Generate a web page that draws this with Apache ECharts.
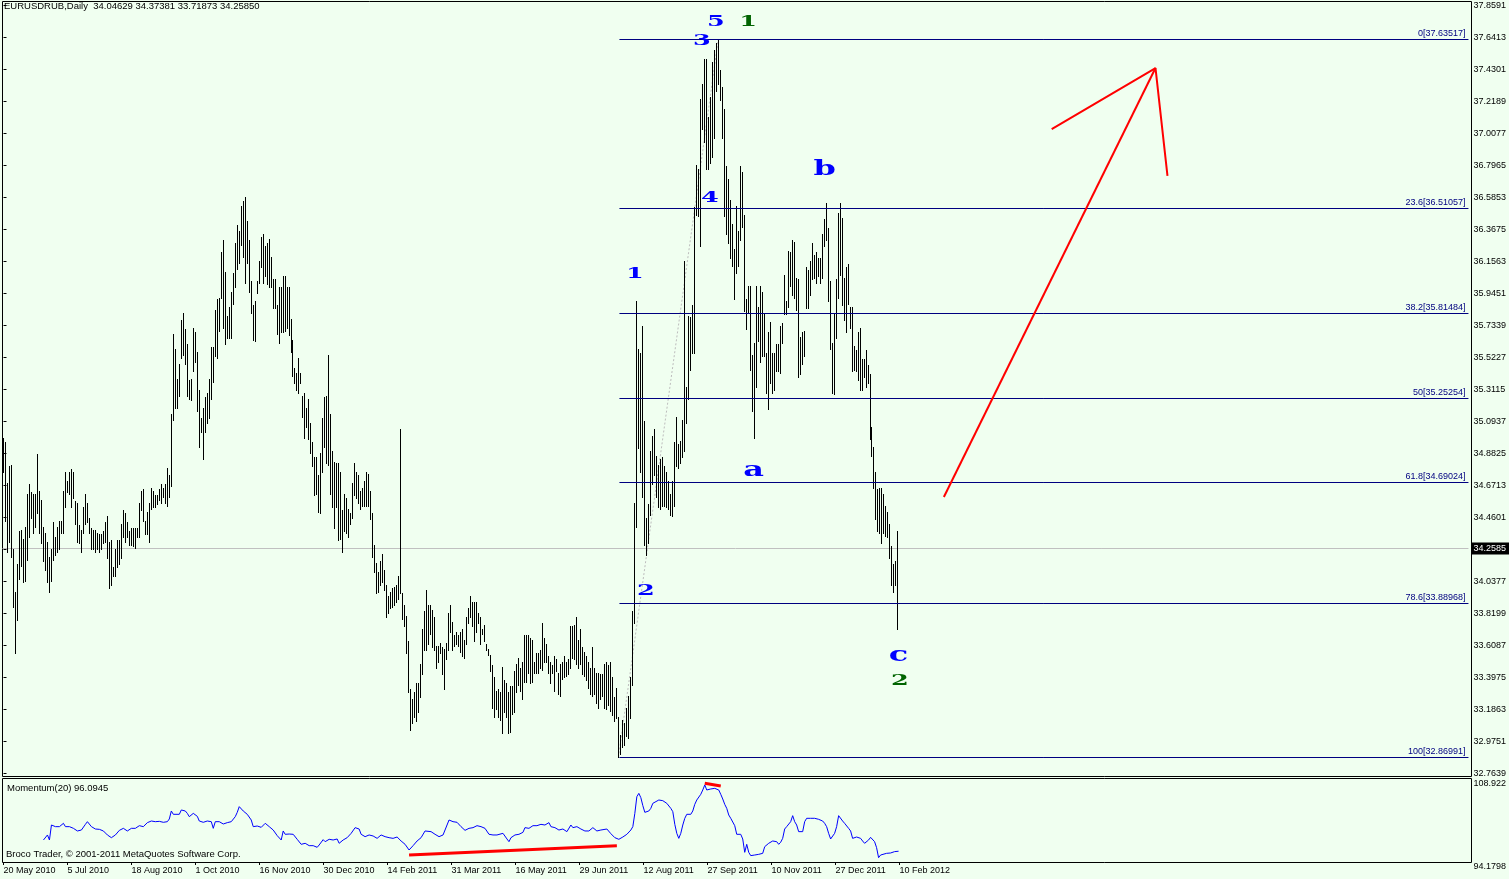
<!DOCTYPE html>
<html><head><meta charset="utf-8">
<script src="https://cdn.jsdelivr.net/npm/echarts@6/dist/echarts.min.js"></script>
<style>html,body{margin:0;padding:0;background:#f0fff0;overflow:hidden}#c{width:1509px;height:879px}</style>
</head><body><div id="c"></div>
<script>
// ---------------- data ----------------
const chartTitle = 'EURUSDRUB,Daily  34.04629 34.37381 33.71873 34.25850';
const momTitle = 'Momentum(20) 96.0945';
const copyright = 'Broco Trader, \u00a9 2001-2011 MetaQuotes Software Corp.';
const xTickLabels = ['20 May 2010','5 Jul 2010','18 Aug 2010','1 Oct 2010','16 Nov 2010','30 Dec 2010','14 Feb 2011','31 Mar 2011','16 May 2011','29 Jun 2011','12 Aug 2011','27 Sep 2011','10 Nov 2011','27 Dec 2011','10 Feb 2012'];
const priceTickLabels = ['32.7639','32.9751','33.1863','33.3975','33.6087','33.8199','34.0377','34.2489','34.4601','34.6713','34.8825','35.0937','35.3115','35.5227','35.7339','35.9451','36.1563','36.3675','36.5853','36.7965','37.0077','37.2189','37.4301','37.6413','37.8591'];
const momTickLabels = ['94.1798','108.922'];

const highs = [
34.99,34.96,34.69,34.80,34.81,34.25,33.97,34.15,34.37,34.38,
34.32,34.40,34.62,34.68,34.63,34.62,34.62,34.88,34.64,34.58,
34.40,34.36,34.30,34.20,34.25,34.43,34.33,34.40,34.44,34.44,
34.64,34.76,34.70,34.76,34.78,34.76,34.57,34.56,34.41,34.38,
34.53,34.62,34.56,34.46,34.39,34.38,34.38,34.36,34.35,34.35,
34.37,34.43,34.47,34.30,34.31,34.13,34.25,34.31,34.31,34.42,
34.51,34.49,34.43,34.37,34.39,34.39,34.39,34.39,34.56,34.64,
34.65,34.44,34.50,34.56,34.66,34.64,34.61,34.61,34.65,34.68,
34.66,34.68,34.79,34.74,35.15,35.68,35.58,35.38,35.48,35.77,
35.82,35.71,35.61,35.37,35.38,35.72,35.69,35.56,35.31,35.12,
35.19,35.26,35.29,35.38,35.59,35.59,35.84,35.91,35.92,36.22,
36.30,36.09,35.80,35.86,35.96,36.08,36.28,36.40,36.36,36.53,
36.56,36.59,36.43,36.30,36.03,35.87,35.90,36.03,36.16,36.32,
36.34,36.26,36.28,36.31,36.19,36.04,36.04,35.87,35.99,35.99,
36.06,36.06,35.99,35.99,35.78,35.64,35.45,35.42,35.52,35.42,
35.27,35.29,35.19,35.25,35.09,34.96,34.86,34.86,34.74,34.89,
35.12,35.26,35.27,35.54,35.15,34.90,34.83,34.82,34.82,34.76,
34.51,34.62,34.59,34.52,34.49,34.69,34.82,34.76,34.74,34.64,
34.66,34.70,34.76,34.75,34.64,34.49,34.28,34.16,34.10,34.17,
34.22,34.11,34.01,33.94,33.97,33.99,34.00,34.01,34.07,35.05,
33.96,33.88,33.81,33.64,33.32,33.26,33.30,33.36,33.36,33.49,
33.72,33.84,33.98,33.88,33.88,33.85,33.80,33.61,33.61,33.63,
33.60,33.59,33.63,33.83,33.88,33.77,33.68,33.70,33.68,33.70,
33.72,33.65,33.80,33.86,33.94,33.90,33.90,33.90,33.83,33.80,
33.72,33.75,33.62,33.59,33.55,33.48,33.40,33.31,33.32,33.30,
33.47,33.38,33.36,33.30,33.34,33.34,33.44,33.49,33.53,33.46,
33.50,33.68,33.68,33.68,33.66,33.65,33.50,33.56,33.56,33.58,
33.76,33.66,33.62,33.54,33.50,33.48,33.54,33.52,33.43,33.49,
33.50,33.54,33.50,33.52,33.74,33.74,33.75,33.80,33.65,33.72,
33.60,33.57,33.54,33.50,33.46,33.60,33.46,33.43,33.43,33.42,
33.42,33.49,33.50,33.48,33.50,33.40,33.27,33.33,33.14,33.02,
33.12,33.10,33.20,33.28,33.40,33.84,34.56,35.90,35.58,35.55,
35.73,35.10,34.46,34.55,34.90,35.00,35.05,34.87,34.81,34.85,
34.86,34.80,34.76,34.70,34.62,34.70,34.96,35.13,34.95,34.97,
35.11,36.16,35.33,35.80,35.79,35.87,36.52,36.80,36.77,37.24,
37.34,37.50,37.50,37.12,37.25,37.48,37.56,37.61,37.63517,37.43,
37.32,37.17,36.79,36.71,36.57,36.41,36.24,36.53,36.36,36.79,
36.75,36.47,35.91,36.00,36.00,35.54,35.62,36.00,35.86,36.00,
35.96,35.82,35.55,35.69,35.76,35.55,35.55,35.61,35.61,35.73,
35.75,36.07,35.90,36.23,36.22,36.30,36.29,36.05,36.04,35.66,
35.69,35.70,36.12,36.10,36.16,36.28,36.20,36.22,36.18,36.18,
36.34,36.44,36.55,36.38,36.03,35.62,35.82,36.04,36.48,36.55,
36.45,36.05,36.12,36.14,35.86,35.86,35.60,35.57,35.69,35.72,
35.51,35.51,35.57,35.47,35.41,35.06,34.93,34.76,34.65,34.66,
34.66,34.62,34.54,34.50,34.42,34.27,34.15,34.17,34.37381];

const lows = [
34.76,34.44,34.23,34.30,34.20,33.87,33.56,33.78,34.05,34.14,
34.03,34.04,34.18,34.33,34.46,34.36,34.40,34.49,34.36,34.29,
34.17,34.11,34.03,33.97,34.04,34.18,34.21,34.23,34.25,34.36,
34.36,34.53,34.63,34.62,34.53,34.59,34.42,34.30,34.29,34.23,
34.36,34.42,34.43,34.36,34.25,34.25,34.23,34.25,34.23,34.25,
34.29,34.30,34.19,33.99,34.01,34.07,34.07,34.13,34.15,34.19,
34.33,34.30,34.33,34.28,34.28,34.27,34.26,34.33,34.33,34.51,
34.44,34.35,34.35,34.30,34.52,34.53,34.53,34.55,34.58,34.56,
34.60,34.56,34.54,34.60,34.67,35.11,35.19,35.19,35.27,35.52,
35.54,35.48,35.27,35.25,35.24,35.43,35.49,35.17,34.93,35.03,
34.85,35.03,35.09,35.12,35.25,35.36,35.53,35.52,35.70,35.92,
35.72,35.61,35.65,35.65,35.65,35.88,35.99,36.11,36.15,36.27,
36.19,36.02,36.15,35.96,35.82,35.64,35.63,35.95,36.02,36.12,
36.02,36.06,36.01,35.99,35.99,35.85,35.85,35.68,35.62,35.69,
35.69,35.70,35.72,35.67,35.56,35.40,35.35,35.31,35.29,35.35,
35.13,34.99,35.06,34.98,34.89,34.80,34.61,34.62,34.50,34.49,
34.76,34.93,34.82,34.81,34.62,34.53,34.39,34.53,34.31,34.32,
34.23,34.37,34.36,34.33,34.42,34.46,34.61,34.59,34.56,34.52,
34.54,34.54,34.54,34.54,34.45,34.20,34.10,33.96,33.97,34.01,
34.03,33.98,33.80,33.83,33.86,33.87,33.88,33.90,33.92,33.96,
33.79,33.74,33.56,33.30,33.05,33.10,33.14,33.11,33.17,33.27,
33.42,33.58,33.58,33.62,33.69,33.60,33.58,33.46,33.50,33.56,
33.42,33.32,33.52,33.58,33.70,33.58,33.61,33.62,33.61,33.57,
33.54,33.53,33.62,33.76,33.80,33.74,33.64,33.70,33.76,33.62,
33.69,33.64,33.58,33.55,33.44,33.20,33.14,33.19,33.14,33.12,
33.03,33.17,33.14,33.03,33.04,33.16,33.17,33.30,33.35,33.31,
33.26,33.37,33.37,33.43,33.36,33.37,33.43,33.43,33.43,33.46,
33.45,33.50,33.50,33.43,33.36,33.43,33.31,33.44,33.29,33.28,
33.39,33.40,33.41,33.42,33.46,33.53,33.52,33.49,33.46,33.49,
33.42,33.41,33.38,33.33,33.29,33.28,33.29,33.23,33.20,33.26,
33.28,33.20,33.19,33.22,33.18,33.15,33.11,33.13,32.86991,32.89,
32.94,32.95,33.01,33.00,33.13,33.35,33.76,34.40,34.92,34.76,
34.60,34.28,34.21,34.29,34.48,34.68,34.74,34.60,34.53,34.52,
34.54,34.54,34.53,34.52,34.48,34.47,34.54,34.80,34.79,34.82,
34.86,34.90,35.09,35.25,35.44,35.55,35.55,36.47,36.46,36.26,
37.04,36.95,36.77,36.77,36.81,36.85,36.98,37.29,37.34,37.23,
36.98,36.46,36.34,36.28,36.18,36.13,35.91,36.08,36.13,36.30,
36.39,35.83,35.71,35.82,35.44,35.17,34.99,35.33,35.63,35.49,
35.53,35.53,35.29,35.18,35.35,35.29,35.31,35.43,35.43,35.42,
35.62,35.81,35.81,35.86,36.00,35.94,35.92,35.84,35.39,35.41,
35.48,35.53,35.85,35.85,35.94,36.04,36.05,36.02,36.06,36.02,
36.05,36.26,36.30,35.90,35.58,35.29,35.28,35.65,35.92,36.07,
35.87,35.77,35.69,35.88,35.72,35.43,35.44,35.43,35.37,35.31,
35.31,35.39,35.33,35.35,34.98,34.87,34.66,34.45,34.37,34.36,
34.29,34.36,34.34,34.33,34.19,34.01,33.97,34.01,33.71873];

const lastClose = 34.25850;

// Momentum(20): [bar index, value]
const momentum = [[20,98.09],[22,98.98],[23,98.09],[24,100.75],[26,100.46],[28,100.46],[30,101.05],[31,100.46],[33,100.46],[35,100.16],[37,99.69],[39,99.86],[41,100.87],[42,101.34],[44,100.46],[46,100.04],[48,99.98],[50,99.69],[52,98.98],[54,98.50],[56,98.98],[58,99.80],[60,100.16],[62,99.69],[64,100.16],[66,100.16],[68,100.63],[70,100.46],[72,101.17],[74,101.46],[76,101.34],[78,101.40],[80,101.23],[82,101.34],[83,101.82],[84,103.24],[85,102.65],[86,103.00],[88,102.65],[89,103.42],[91,103.24],[92,102.82],[93,102.23],[95,102.82],[97,102.29],[98,101.46],[100,101.23],[102,101.46],[104,101.34],[105,100.16],[106,101.34],[108,101.34],[110,100.93],[112,101.17],[114,101.34],[116,102.23],[117,103.00],[118,104.01],[119,103.71],[120,103.24],[122,102.65],[124,101.64],[125,100.46],[127,100.57],[129,100.34],[131,101.05],[132,101.34],[133,100.46],[135,99.86],[137,98.86],[139,98.09],[140,99.69],[141,99.10],[143,99.15],[145,99.10],[147,98.21],[149,97.32],[151,97.50],[153,97.08],[155,97.08],[157,96.79],[158,97.20],[160,98.15],[161,97.79],[163,98.21],[165,98.09],[167,98.27],[168,97.50],[170,98.09],[172,98.50],[174,99.27],[176,100.28],[178,100.04],[179,99.10],[181,98.68],[183,98.98],[185,98.80],[186,98.98],[187,98.38],[189,98.98],[191,98.68],[193,98.50],[195,98.38],[197,98.62],[199,97.91],[201,97.32],[203,96.31],[204,96.49],[205,97.08],[207,97.91],[209,98.50],[211,99.69],[212,99.45],[214,99.57],[216,99.10],[218,98.68],[220,98.98],[222,100.75],[223,101.64],[225,101.34],[227,101.23],[229,100.46],[231,99.80],[233,100.16],[235,100.28],[237,100.63],[239,100.46],[241,100.16],[243,99.10],[245,98.98],[247,98.98],[248,98.98],[250,99.27],[252,98.27],[253,97.79],[254,98.50],[256,98.98],[258,99.10],[260,99.45],[261,100.28],[263,100.16],[265,100.63],[267,100.63],[269,100.87],[271,100.75],[273,101.17],[274,100.46],[276,100.28],[278,99.86],[280,100.04],[282,99.57],[284,100.75],[285,100.28],[287,100.46],[289,100.04],[291,99.69],[293,99.69],[295,100.28],[297,99.69],[299,99.86],[300,99.69],[302,100.04],[304,99.21],[306,98.50],[308,98.21],[310,98.62],[312,99.10],[314,99.86],[315,100.46],[316,102.82],[317,105.78],[318,106.37],[319,105.61],[320,104.19],[321,103.00],[322,103.00],[323,103.24],[324,103.71],[325,104.60],[326,104.90],[328,105.19],[330,105.07],[332,104.60],[334,103.71],[335,103.12],[336,100.87],[337,99.27],[338,98.38],[339,99.27],[340,100.75],[341,101.94],[342,102.65],[343,102.82],[344,102.65],[345,103.24],[346,104.42],[347,105.19],[348,105.49],[349,106.20],[350,106.97],[351,107.86],[352,106.97],[353,106.67],[354,107.15],[355,106.97],[356,107.26],[357,107.15],[358,106.97],[359,106.20],[360,105.37],[361,104.42],[362,103.71],[363,102.53],[364,101.94],[365,101.64],[366,100.63],[367,99.10],[368,99.21],[369,99.10],[370,98.27],[371,95.90],[372,97.32],[373,95.90],[374,95.31],[375,95.13],[376,95.42],[378,95.54],[380,95.72],[381,96.90],[382,96.61],[383,97.50],[384,97.20],[385,97.91],[386,98.09],[387,97.79],[388,97.32],[389,97.69],[390,98.38],[391,100.04],[392,100.46],[393,100.75],[394,101.34],[395,102.41],[396,101.34],[397,100.75],[398,99.57],[399,99.27],[400,99.57],[401,101.34],[402,101.94],[404,101.94],[406,101.94],[408,101.76],[410,101.46],[411,101.05],[412,100.46],[413,99.27],[414,98.27],[415,98.38],[416,99.27],[417,100.46],[418,102.41],[419,102.23],[420,101.46],[421,101.05],[422,100.75],[423,100.16],[424,99.69],[425,98.38],[426,98.38],[427,98.62],[428,98.68],[429,98.38],[430,97.91],[431,97.50],[432,97.50],[433,98.09],[434,98.56],[435,98.50],[436,97.79],[437,96.73],[438,94.95],[439,95.42],[440,95.66],[442,95.72],[444,95.78],[446,96.02],[447,96.13],[448,96.0945]];

// Fibonacci retracement
const fibRatios = ['0','23.6','38.2','50','61.8','78.6','100'];
const fibLevels = [37.63517,36.51057,35.81484,35.25254,34.69024,33.88968,32.86991];
const fibStartBar = 308;
const fibTrend = [[308,32.86991],[358,37.63517]];

// Elliott wave labels
const waveTexts  = ['5','3','1','4','1','2','a','b','c','2'];
const waveBars   = [356.75,349.75,373,353.75,316.25,321.75,375.75,411.25,448.25,449];
const wavePrices = [37.745,37.622,37.745,36.58,36.077,33.97,34.77,36.766,33.546,33.373];
const waveDegree = ['minor','minor','major','minor','minor','minor','minor','minor','minor','major'];

// hand-drawn red lines
const arrowShaft = [[471,34.597],[577,37.443]];
const arrowHead  = [[525,37.038],[577,37.443],[583,36.727]];
const momLineLow  = [[203,95.42],[307,97.07]];
const momLineHigh = [[351,108.16],[359,107.68]];

// ---------------- chart ----------------
if (highs.length !== lows.length) throw new Error('length mismatch ' + highs.length + ' ' + lows.length);
const xMax = 733.75;
const FONT = 'Liberation Sans';
const crisp = v => Math.round(v - 0.5) + 0.5;
const barData = highs.map((h, i) => [i, h, lows[i]]);
const waveData = waveTexts.map((t, k) => [waveBars[k], wavePrices[k], k]);
const fibData = fibLevels.map((lvl, k) => [fibStartBar, lvl, k]);

const chart = echarts.init(document.getElementById('c'), null, { renderer: 'canvas' });
const txt = { fontSize: 9.5, fontWeight: 'normal', fontFamily: FONT, color: '#000' };
chart.setOption({
  animation: false,
  backgroundColor: '#f0fff0',
  title: [
    { text: chartTitle, left: 4, top: 1.5, padding: 0, textStyle: txt },
    { text: momTitle, left: 7, top: 783, padding: 0, textStyle: txt },
    { text: copyright, left: 6, top: 849, padding: 0, textStyle: txt }
  ],
  grid: [
    { left: 3.5, top: 5.3, width: 1467.5, height: 768 },
    { left: 3.5, top: 779, width: 1467.5, height: 83 },
    { left: 3.5, top: 779, width: 896, height: 83 },
    { left: 2.5, top: 1.5, width: 1469, height: 775, show: true, borderColor: '#000', borderWidth: 1, backgroundColor: 'transparent' },
    { left: 2.5, top: 778.5, width: 1469, height: 84, show: true, borderColor: '#000', borderWidth: 1, backgroundColor: 'transparent' }
  ],
  xAxis: [
    { gridIndex: 0, type: 'value', min: 0, max: xMax, show: false },
    { gridIndex: 1, type: 'value', min: 0, max: xMax, show: false },
    { gridIndex: 2, type: 'value', min: 0, max: 448, interval: 32, position: 'bottom',
      axisLine: { show: false }, splitLine: { show: false },
      axisTick: { show: true, length: 3, lineStyle: { color: '#000' } },
      axisLabel: { formatter: (v, i) => xTickLabels[i] || '', align: 'left', margin: 4,
                   color: '#000', fontSize: 9, fontFamily: FONT } },
    { gridIndex: 3, type: 'value', show: false },
    { gridIndex: 4, type: 'value', show: false }
  ],
  yAxis: [
    { gridIndex: 0, type: 'value', position: 'right', min: 32.7639, max: 37.8591, interval: 0.2123,
      axisLine: { show: false }, splitLine: { show: false },
      axisTick: { show: true, length: 3, lineStyle: { color: '#000' } },
      axisLabel: { formatter: (v, i) => priceTickLabels[i] || '', margin: 5, color: '#000', fontSize: 9,
                   fontFamily: FONT, padding: [3, 0, 0, 0] } },
    { gridIndex: 1, type: 'value', position: 'right', min: 94.1798, max: 108.922, interval: 14.7422,
      axisLine: { show: false }, splitLine: { show: false }, axisTick: { show: false },
      axisLabel: { formatter: (v, i) => momTickLabels[i] || '', margin: 4, color: '#000', fontSize: 9,
                   fontFamily: FONT, verticalAlign: 'top' } },
    { gridIndex: 2, type: 'value', show: false },
    { gridIndex: 3, type: 'value', show: false },
    { gridIndex: 4, type: 'value', show: false }
  ],
  series: [
    // last close line + price box
    { type: 'custom', xAxisIndex: 0, yAxisIndex: 0, data: [[0, lastClose]], encode: { x: 0, y: 1 }, silent: true, z: 1,
      renderItem: (params, api) => {
        const a = api.coord([0, api.value(1)]);
        const b = api.coord([xMax, api.value(1)]);
        const y = crisp(a[1]);
        return { type: 'group', children: [
          { type: 'line', shape: { x1: a[0] - 1, y1: y, x2: b[0], y2: y }, style: { stroke: '#c0c0c0', lineWidth: 1 } },
          { type: 'text', x: b[0] + 3, y: y, style: { text: lastClose.toFixed(4), fill: '#fff', backgroundColor: '#000',
            padding: [2, 4, 1, 2], font: '9px "' + FONT + '"', align: 'left', verticalAlign: 'middle' } }
        ] };
      } },
    // fib trend (dotted)
    { type: 'line', xAxisIndex: 0, yAxisIndex: 0, data: fibTrend, symbol: 'none', silent: true, z: 2,
      lineStyle: { color: '#bdbdbd', width: 1, type: [2, 2] } },
    // fib levels
    { type: 'custom', xAxisIndex: 0, yAxisIndex: 0, data: fibData, encode: { x: 0, y: 1 }, silent: true, z: 4,
      renderItem: (params, api) => {
        const k = api.value(2);
        const a = api.coord([api.value(0), api.value(1)]);
        const b = api.coord([xMax, api.value(1)]);
        const y = crisp(a[1]);
        return { type: 'group', children: [
          { type: 'line', shape: { x1: a[0] + 1, y1: y, x2: b[0], y2: y }, style: { stroke: '#000080', lineWidth: 1 } },
          { type: 'text', x: b[0] - 3, y: y - 1, style: { text: fibRatios[k] + '[' + fibLevels[k].toFixed(5) + ']',
            fill: '#000080', font: '9px "' + FONT + '"', align: 'right', verticalAlign: 'bottom' } }
        ] };
      } },
    // HL bars
    { type: 'custom', xAxisIndex: 0, yAxisIndex: 0, data: barData, encode: { x: 0, y: [1, 2] }, silent: true, z: 3,
      renderItem: (params, api) => {
        const i = api.value(0);
        const a = api.coord([i, api.value(1)]);
        const b = api.coord([i, api.value(2)]);
        const x = crisp(a[0]);
        return { type: 'line', shape: { x1: x, y1: Math.round(a[1]), x2: x, y2: Math.round(b[1]) + 1 },
                 style: { stroke: '#000', lineWidth: 1 } };
      } },
    // wave labels
    { type: 'custom', xAxisIndex: 0, yAxisIndex: 0, data: waveData, encode: { x: 0, y: 1 }, silent: true, z: 5,
      renderItem: (params, api) => {
        const k = api.value(2);
        const p = api.coord([api.value(0), api.value(1)]);
        const t = waveTexts[k];
        const lower = /[a-z]/.test(t);
        return { type: 'text', x: p[0], y: p[1], scaleX: lower ? 1.6 : 1.7,
                 style: { text: t, fill: waveDegree[k] === 'major' ? '#006400' : '#0000ff',
                          font: 'bold ' + (lower ? 20 : 15) + 'px "DejaVu Serif"', align: 'center', verticalAlign: 'middle' } };
      } },
    { type: 'line', xAxisIndex: 0, yAxisIndex: 0, data: arrowShaft, symbol: 'none', silent: true, z: 4,
      lineStyle: { color: '#ff0000', width: 2 } },
    { type: 'line', xAxisIndex: 0, yAxisIndex: 0, data: arrowHead, symbol: 'none', silent: true, z: 4,
      lineStyle: { color: '#ff0000', width: 2 } },
    { type: 'line', xAxisIndex: 1, yAxisIndex: 1, data: momentum, symbol: 'none', silent: true, z: 3,
      lineStyle: { color: '#0000ff', width: 1 } },
    { type: 'line', xAxisIndex: 1, yAxisIndex: 1, data: momLineLow, symbol: 'none', silent: true, z: 4,
      lineStyle: { color: '#ff0000', width: 3 } },
    { type: 'line', xAxisIndex: 1, yAxisIndex: 1, data: momLineHigh, symbol: 'none', silent: true, z: 4,
      lineStyle: { color: '#ff0000', width: 3 } }
  ]
});
</script></body></html>
